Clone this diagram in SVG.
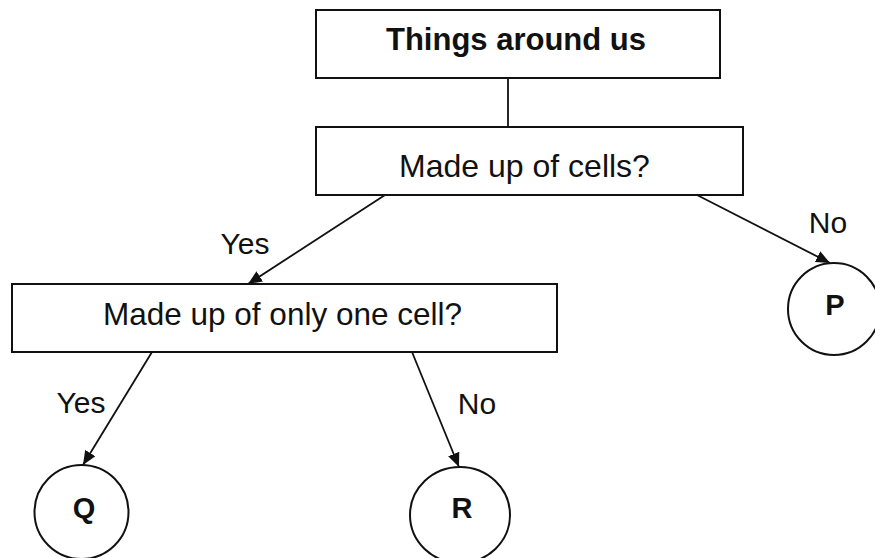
<svg xmlns="http://www.w3.org/2000/svg" width="875" height="558" viewBox="0 0 875 558">
<style>
.box{fill:#fff;stroke:#111;stroke-width:2}
.node{fill:#fff;stroke:#111;stroke-width:2}
.conn{stroke:#111;stroke-width:1.8;fill:none}
.t{font-family:"Liberation Sans",Arial,sans-serif;fill:#111;text-anchor:middle}
.b{font-weight:bold}
</style>
<defs>
<marker id="arr" markerUnits="userSpaceOnUse" markerWidth="16" markerHeight="12" refX="14" refY="6" orient="auto">
<path d="M0,0 L14,6 L0,12 Z" fill="#111"/>
</marker>
</defs>
<rect width="875" height="558" fill="#fff"/>
<g id="connectors">
<line class="conn" x1="508" y1="78" x2="508" y2="127"/>
<line class="conn" x1="385" y1="195" x2="248" y2="284" marker-end="url(#arr)"/>
<line class="conn" x1="697" y1="195" x2="830" y2="263" marker-end="url(#arr)"/>
<line class="conn" x1="152" y1="352" x2="83" y2="465" marker-end="url(#arr)"/>
<line class="conn" x1="412" y1="352" x2="459" y2="467" marker-end="url(#arr)"/>
<text class="t" x="245" y="254" font-size="30">Yes</text>
<text class="t" x="828" y="233" font-size="30">No</text>
<text class="t" x="81" y="413" font-size="30">Yes</text>
<text class="t" x="477" y="414" font-size="30">No</text>
</g>
<g id="things">
<rect class="box" x="316" y="10" width="404" height="68"/>
<text class="t b" x="516" y="50" font-size="31">Things around us</text>
</g>
<g id="cells">
<rect class="box" x="316" y="127" width="427" height="68"/>
<text class="t" x="524.5" y="177" font-size="32">Made up of cells?</text>
</g>
<g id="onecell">
<rect class="box" x="12" y="284" width="545" height="68"/>
<text class="t" x="282.5" y="325" font-size="31.5">Made up of only one cell?</text>
</g>
<g id="P">
<circle class="node" cx="834" cy="309" r="46"/>
<text class="t b" x="835" y="315" font-size="29">P</text>
</g>
<g id="Q">
<circle class="node" cx="81.5" cy="512" r="47"/>
<text class="t b" x="84" y="518" font-size="29">Q</text>
</g>
<g id="R">
<ellipse class="node" cx="460" cy="515" rx="50" ry="48"/>
<text class="t b" x="462" y="518" font-size="29">R</text>
</g>
</svg>
